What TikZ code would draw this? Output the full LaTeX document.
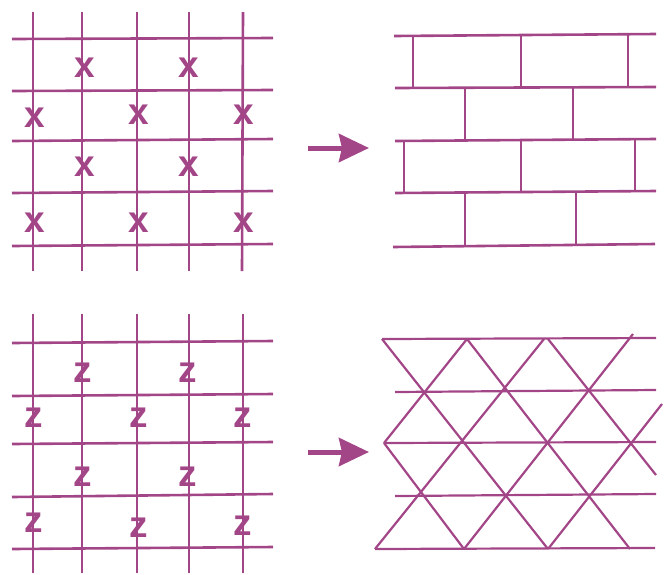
\documentclass[tikz,border=0pt]{standalone}
\usepackage{fontspec}
\setsansfont{Liberation Sans}
\usetikzlibrary{arrows.meta}
\definecolor{plum}{RGB}{163,70,136}
\tikzset{
  gridline/.style={draw=plum, line width=2.6},
  triline/.style={draw=plum, line width=2.2},
  site/.style={text=plum, font=\sffamily\bfseries\fontsize{37}{37}\selectfont, inner sep=0pt, anchor=center},
  bigarrow/.style={draw=plum, line width=5, -{Stealth[length=30pt,width=28pt,inset=3pt]}}
}
\begin{document}
\begin{tikzpicture}[x=1pt,y=-1pt]
\useasboundingbox (0,0) rectangle (666,574);
% ---------- top-left grid with x ----------
\foreach \xa/\xb in {33/33,82/82,137/137,189/189,243/242}
  \draw[gridline] (\xa,12) -- (\xb,271);
\foreach \ya/\yb in {39/38,91/90,141/139,193/191,246/244}
  \draw[gridline] (12,\ya) -- (273,\yb);
\node[site] (x1) at (85,68) {x};
\node[site] (x2) at (189,68) {x};
\node[site] (x3) at (35,118) {x};
\node[site] (x4) at (139,115) {x};
\node[site] (x5) at (244,115) {x};
\node[site] (x6) at (85,167) {x};
\node[site] (x7) at (189,167) {x};
\node[site] (x8) at (35,223) {x};
\node[site] (x9) at (139,223) {x};
\node[site] (x10) at (244,223) {x};
% ---------- bottom-left grid with z ----------
\foreach \xa/\xb in {33/33,82/82,137/137,189/189,243/243}
  \draw[gridline] (\xa,314) -- (\xb,573);
\foreach \ya/\yb in {343/341,396/394,444/442,497/494,549/547}
  \draw[gridline] (12,\ya) -- (273,\yb);
\node[site] (z1) at (83,373) {z};
\node[site] (z2) at (188,373) {z};
\node[site] (z3) at (34,418) {z};
\node[site] (z4) at (139,418) {z};
\node[site] (z5) at (243,418) {z};
\node[site] (z6) at (83,477) {z};
\node[site] (z7) at (188,477) {z};
\node[site] (z8) at (34,523) {z};
\node[site] (z9) at (139,528) {z};
\node[site] (z10) at (243,526) {z};
% ---------- arrows ----------
\coordinate (a1s) at (308,148);
\coordinate (a1e) at (369,148);
\coordinate (a2s) at (308,452);
\coordinate (a2e) at (369,452);
\draw[bigarrow] (a1s) -- (a1e);
\draw[bigarrow] (a2s) -- (a2e);
% ---------- brick wall ----------
\draw[gridline] (394,36) -- (656,34);
\draw[gridline] (395,88) -- (656,87);
\draw[gridline] (395,141) -- (656,139);
\draw[gridline] (395,193) -- (656,191);
\draw[gridline] (393,247) -- (655,244);
\foreach \xx in {413,521,628} \draw[gridline] (\xx,35) -- (\xx,88);
\foreach \xx in {465,573} \draw[gridline] (\xx,88) -- (\xx,140);
\foreach \xx in {404,521,635} \draw[gridline] (\xx,140) -- (\xx,192);
\foreach \xx in {465,576} \draw[gridline] (\xx,192) -- (\xx,245);
% ---------- triangular lattice ----------
\draw[triline] (382,339) -- (656,338);
\draw[triline] (395,392) -- (656,390);
\draw[triline] (384,443) -- (656,442);
\draw[triline] (395,496) -- (656,494);
\draw[triline] (375,549) -- (655,548);
% down-right diagonals
\draw[triline] (382,339) -- (548,549);
\draw[triline] (467,339) -- (630,549);
\draw[triline] (548,339) -- (656,475);
\draw[triline] (384,443) -- (464,549);
% up-right diagonals
\draw[triline] (384,443) -- (467,339);
\draw[triline] (375,549) -- (544,339);
\draw[triline] (464,549) -- (633,334);
\draw[triline] (548,549) -- (662,404);
\end{tikzpicture}
\end{document}
